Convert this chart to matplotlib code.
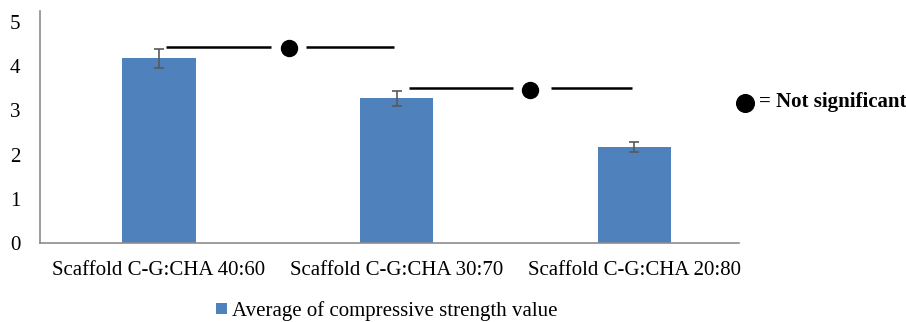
import numpy as np
import matplotlib.pyplot as plt

plt.rcParams['font.family'] = ['Liberation Serif', 'DejaVu Serif']

# data
categories = ['Scaffold C-G:CHA 40:60', 'Scaffold C-G:CHA 30:70', 'Scaffold C-G:CHA 20:80']
strength = [4.18, 3.27, 2.17]
strength_err = [0.21, 0.17, 0.11]
series_label = 'Average of compressive strength value'
y_ticks = [0, 1, 2, 3, 4, 5]

# "not significant" marks: (y, left line, dot x, right line)
ns_marks = [
    (4.44, (0.03, 0.47), 0.546, (0.62, 0.99)),
    (3.50, (1.05, 1.49), 1.563, (1.65, 1.99)),
]

fs = 15

fig = plt.figure(figsize=(9.06, 3.22), dpi=100)
ax = fig.add_axes([40 / 906, 1 - 243 / 322, 699 / 906, 232 / 322])

x = np.arange(len(categories))
bars = ax.bar(x, strength, width=0.31, color='#4F81BD', label=series_label, zorder=2)
ax.errorbar(x, strength, yerr=strength_err, fmt='none', ecolor='#595959',
            elinewidth=1.2, capsize=3.6, capthick=1.2, zorder=3)

for y, (l0, l1), dot_x, (r0, r1) in ns_marks:
    ax.plot([l0, l1], [y, y], color='black', lw=1.8, solid_capstyle='butt')
    ax.plot([r0, r1], [y, y], color='black', lw=1.8, solid_capstyle='butt')
    ax.plot(dot_x, y - 0.03, 'o', color='black', ms=11.5)

ax.set_xlim(-0.5, 2.44)
ax.set_ylim(0, 5.25)
ax.set_yticks(y_ticks)
ax.set_xticks(x)
ax.set_xticklabels(categories, fontsize=fs)
ax.tick_params(axis='y', labelsize=fs, length=0, pad=14)
ax.tick_params(axis='x', length=0, pad=13)

for side in ['top', 'right']:
    ax.spines[side].set_visible(False)
for side in ['left', 'bottom']:
    ax.spines[side].set_color('#8c8c8c')
    ax.spines[side].set_linewidth(1.2)

# side note
fig.lines.append(plt.Line2D([745 / 906], [1 - 103 / 322], marker='o', color='black',
                            ms=12.7, transform=fig.transFigure))
fig.text(759 / 906, 1 - 102 / 322, '= Not significant', fontsize=fs,
         fontweight='bold', va='center', ha='left')

fig.legend(handles=[bars], labels=[series_label], loc='center',
           bbox_to_anchor=(387 / 906, 1 - 311 / 322), frameon=False,
           fontsize=fs, handlelength=0.5, handleheight=0.5, handletextpad=0.25)

fig.savefig('out.png', dpi=100)
